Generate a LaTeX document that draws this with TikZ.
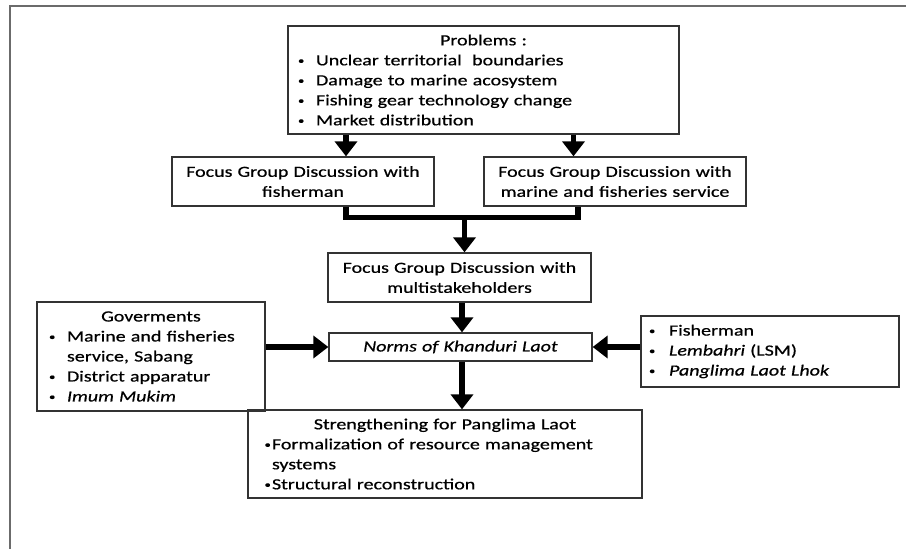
\documentclass[tikz,border=0pt]{standalone}
\usepackage{fontspec}
\setmainfont{Carlito}[FakeStretch=1.29,FakeBold=0.6]
\usetikzlibrary{arrows.meta}
\newcommand\mybul{\raisebox{1.4pt}{\fontsize{10}{10}\selectfont\textbullet}}
% one bulleted line: offset of bullet, distance bullet->text, text
\newcommand\myitem[3]{\makebox[\linewidth][l]{\hspace*{#1}\makebox[#2][l]{\mybul}#3}}
\newcommand\myindent[2]{\makebox[\linewidth][l]{\hspace*{#1}#2}}
\begin{document}
\begin{tikzpicture}[x=1pt,y=-1pt,
  box/.style={draw=black!80, line width=1.3pt, inner xsep=0pt, inner ysep=0pt,
    font=\fontsize{15.5}{20}\selectfont, text=black, anchor=center},
  arr/.style={line width=5.5pt, -{Triangle[width=22pt,length=15pt]}},
  conn/.style={line width=5.5pt, line join=miter},
  frame/.style={draw=black!58, line width=2pt}]
\useasboundingbox (0,0) rectangle (906,549);
\draw[frame] (10,549) -- (10,6) -- (906,6);

\node[box, align=left, text width=391pt, minimum height=108pt] (prob) at (483.5,80)
 {\makebox[\linewidth]{Problems :}\\
  \myitem{10pt}{18pt}{Unclear territorial\ \ boundaries}\\
  \myitem{10pt}{18pt}{Damage to marine acosystem}\\
  \myitem{10pt}{18pt}{Fishing gear technology change}\\
  \myitem{10pt}{18pt}{Market distribution}};

\node[box, align=center, text width=262pt, minimum height=49pt] (fgd1) at (303,181.5)
 {Focus Group Discussion with\\fisherman};
\node[box, align=center, text width=262pt, minimum height=49pt] (fgd2) at (615,181.5)
 {Focus Group Discussion with\\marine and fisheries service};
\node[box, align=center, text width=263pt, minimum height=49pt] (fgdm) at (459.5,277.5)
 {Focus Group Discussion with\\multistakeholders};
\node[box, align=center, text width=263pt, minimum height=28pt] (norms) at (460.5,347)
 {\itshape Norms of Khanduri Laot};

\node[box, align=left, text width=228pt, minimum height=109pt] (gov) at (151,356.5)
 {\makebox[\linewidth]{Goverments}\\
  \myitem{12pt}{18pt}{Marine and fisheries}\\
  \myindent{30pt}{service, Sabang}\\
  \myitem{12pt}{18pt}{District apparatur}\\
  \myitem{12pt}{18pt}{\itshape Imum Mukim}};

\node[box, align=left, text width=258pt, minimum height=71pt] (stake) at (770,351.5)
 {\myitem{8pt}{20pt}{Fisherman}\\
  \myitem{8pt}{20pt}{\textit{Lembahri} (LSM)}\\
  \myitem{8pt}{20pt}{\itshape Panglima Laot Lhok}};

\node[box, align=left, text width=394pt, minimum height=88pt] (str) at (445,454)
 {\makebox[\linewidth]{Strengthening for Panglima Laot}\\
  \myitem{16.5pt}{7.5pt}{Formalization of resource management}\\
  \myindent{24pt}{systems}\\
  \myitem{16.5pt}{7.5pt}{Structural reconstruction}};

\coordinate (xa) at (346,0);
\coordinate (xb) at (573.5,0);
\coordinate (xc) at (578,0);
\coordinate (xm) at (462,0);
\coordinate (j) at (464.5,217.5);

\draw[arr] (prob.south -| xa) -- (fgd1.north -| xa);
\draw[arr] (prob.south -| xb) -- (fgd2.north -| xb);
\draw[conn] (fgd1.south -| xa) |- (j) -| (fgd2.south -| xc);
\draw[arr] (j) -- (fgdm.north -| j);
\draw[arr] (fgdm.south -| xm) -- (norms.north -| xm);
\draw[arr] (norms.south -| xm) -- (str.north -| xm);
\draw[arr] (gov.east |- norms) -- (norms.west);
\draw[arr] (stake.west |- norms) -- (norms.east);
\end{tikzpicture}
\end{document}
